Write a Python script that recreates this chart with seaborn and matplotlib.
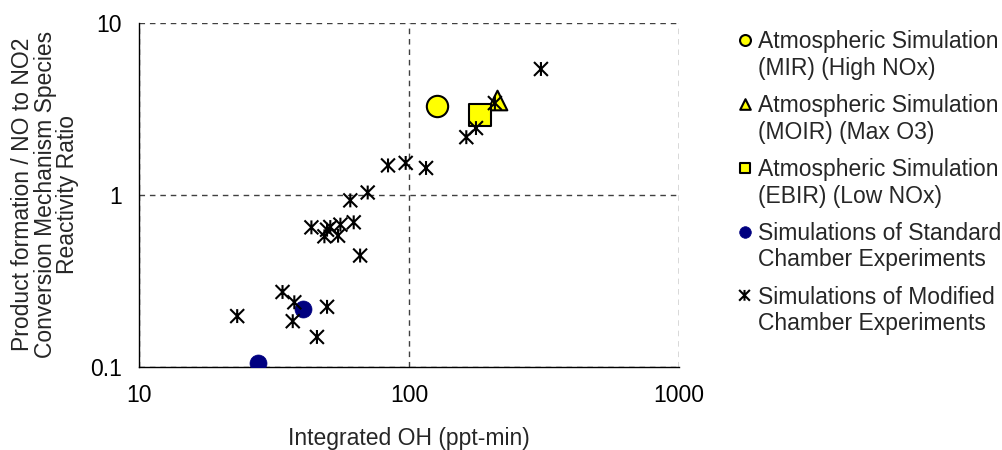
import numpy as np
import matplotlib
matplotlib.use('Agg')
import matplotlib.pyplot as plt
import seaborn as sns
from matplotlib.path import Path
from matplotlib.legend_handler import HandlerPathCollection

# values (log-log axes)
mir_x = [126.6]
mir_y = [3.27]
moir_x = [212]
moir_y = [3.53]
ebir_x = [183.3]
ebir_y = [2.91]
std_x = [40.5, 27.6]
std_y = [0.217, 0.105]
mod_x = [308, 208, 177, 163, 83.6, 97.2, 115.6, 70.3, 60.6, 43.5, 48.6, 49.7,
         51.1, 54.6, 55.7, 62.4, 65.9, 34.0, 37.6, 49.7, 23.1, 37.1, 45.6]
mod_y = [5.38, 3.41, 2.44, 2.16, 1.48, 1.53, 1.43, 1.03, 0.927, 0.646, 0.573, 0.626,
         0.649, 0.578, 0.670, 0.691, 0.443, 0.272, 0.237, 0.223, 0.197, 0.184, 0.149]

labels = ['Atmospheric Simulation\n(MIR) (High NOx)',
          'Atmospheric Simulation\n(MOIR) (Max O3)',
          'Atmospheric Simulation\n(EBIR) (Low NOx)',
          'Simulations of Standard\nChamber Experiments',
          'Simulations of Modified\nChamber Experiments']
x_ticks = [10, 100, 1000]
y_ticks = [0.1, 1, 10]
y_tick_labels = ['0.1', '1', '10']


def star_marker():
    verts = [(0, -1), (0, 1), (-1, -1), (1, 1), (-1, 1), (1, -1)]
    codes = [Path.MOVETO, Path.LINETO] * 3
    return Path(verts, codes)


def main():
    sns.set_style('white')
    plt.rcParams['font.family'] = ['Liberation Sans', 'DejaVu Sans']

    fig = plt.figure(figsize=(10.03, 4.5), dpi=100)
    ax = fig.add_axes([0.1386, 0.185, 0.5384, 0.7646])

    sns.scatterplot(x=mir_x, y=mir_y, ax=ax, marker='o', s=236, color='#FFFF00',
                    edgecolor='black', linewidth=1.5, label=labels[0], zorder=3)
    sns.scatterplot(x=moir_x, y=moir_y, ax=ax, marker='^', s=200, color='#FFFF00',
                    edgecolor='black', linewidth=1.5, label=labels[1], zorder=3)
    sns.scatterplot(x=ebir_x, y=ebir_y, ax=ax, marker='s', s=243, color='#FFFF00',
                    edgecolor='black', linewidth=1.5, label=labels[2], zorder=3)
    sns.scatterplot(x=std_x, y=std_y, ax=ax, marker='o', s=150, color='#000080',
                    edgecolor='#000080', linewidth=0.5, label=labels[3], zorder=3)
    sns.scatterplot(x=mod_x, y=mod_y, ax=ax, marker=star_marker(), s=100,
                    facecolor='none', edgecolor='black', linewidth=1.5,
                    label=labels[4], zorder=4)

    ax.set_xscale('log')
    ax.set_yscale('log')
    ax.set_xlim(10, 1000)
    ax.set_ylim(0.1, 10)
    ax.set_xticks(x_ticks, [str(v) for v in x_ticks])
    ax.set_yticks(y_ticks, y_tick_labels)
    ax.minorticks_off()
    ax.tick_params(direction='inout', length=9, width=1, colors='black', labelsize=16.5)
    ax.tick_params(axis='x', pad=8)
    ax.tick_params(axis='y', pad=8)

    ax.grid(True, which='major', color='#404040', linestyle=(0, (4, 3.5)), linewidth=1)
    for side in ['top', 'right']:
        ax.spines[side].set_visible(False)
    for side in ['left', 'bottom']:
        ax.spines[side].set_color('black')
        ax.spines[side].set_linewidth(1)

    ax.set_xlabel('Integrated OH (ppt-min)', fontsize=16.5, labelpad=14)
    ax.set_ylabel('Product formation / NO to NO2\nConversion Mechanism Species\nReactivity Ratio',
                  fontsize=16.5, labelpad=8, linespacing=0.95)

    sizes = [62, 58, 62, 70, 60]
    handles, labs = ax.get_legend_handles_labels()
    hmap = {h: HandlerPathCollection(sizes=[sz], yoffsets=[1.5]) for h, sz in zip(handles, sizes)}
    leg = fig.legend(handles, labs, loc='upper left', bbox_to_anchor=(0.724, 0.958),
                     frameon=False, fontsize=16.5, handletextpad=0.27, handlelength=0.6,
                     labelspacing=0.62, borderpad=0, scatterpoints=1, handler_map=hmap)
    for t in leg.get_texts():
        t.set_linespacing(1.2)
    ax.get_legend().remove()

    fig.savefig('out.png', dpi=100)


if __name__ == '__main__':
    main()
